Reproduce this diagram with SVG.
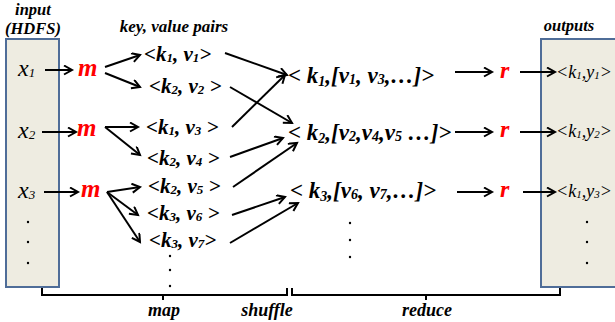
<svg xmlns="http://www.w3.org/2000/svg" width="615" height="322" viewBox="0 0 615 322">
<style>
.t{font-family:'Liberation Serif',Tinos,'Times New Roman','DejaVu Serif',serif;font-style:italic;fill:#000}
.b{font-weight:bold}
.red{fill:#FF0000;font-weight:bold}
.box{fill:#EEECE1;stroke:#4F6D98;stroke-width:2}
.ln{stroke:#000;stroke-width:2;fill:none}
.ar{stroke:#000;stroke-width:2;fill:none;marker-end:url(#ah)}
.dot{fill:#000}
</style>
<defs>
<marker id="ah" markerUnits="userSpaceOnUse" markerWidth="12" markerHeight="12" refX="9" refY="5" orient="auto">
<path d="M1,0.5 L9,5 L1,9.5" stroke="#000" stroke-width="2" fill="none"/>
</marker>
</defs>
<rect width="615" height="322" fill="#fff"/>

<g id="input-box">
<rect class="box" x="6" y="39" width="53" height="248"/>
<text class="t b" x="33" y="15" font-size="16.5" text-anchor="middle">input</text>
<text class="t b" x="33" y="34" font-size="16.5" text-anchor="middle">(HDFS)</text>
<text class="t" x="18" y="76" font-size="24">x<tspan font-size="13" dy="1">1</tspan></text>
<text class="t" x="18" y="138" font-size="24">x<tspan font-size="13" dy="1">2</tspan></text>
<text class="t" x="18" y="198" font-size="24">x<tspan font-size="13" dy="1">3</tspan></text>
<circle class="dot" cx="28" cy="222" r="1.2"/><circle class="dot" cx="28" cy="242" r="1.2"/><circle class="dot" cx="28" cy="263" r="1.2"/>
</g>

<g id="output-box">
<rect class="box" x="541" y="39" width="90" height="248"/>
<text class="t b" x="569" y="31" font-size="16.5" text-anchor="middle">outputs</text>
<text class="t" x="556" y="78" font-size="18">&lt;k<tspan font-size="11" dy="1">1</tspan><tspan dy="-1">,y</tspan><tspan font-size="11" dy="1">1</tspan><tspan dy="-1">&gt;</tspan></text>
<text class="t" x="556" y="137" font-size="18">&lt;k<tspan font-size="11" dy="1">1</tspan><tspan dy="-1">,y</tspan><tspan font-size="11" dy="1">2</tspan><tspan dy="-1">&gt;</tspan></text>
<text class="t" x="556" y="197" font-size="18">&lt;k<tspan font-size="11" dy="1">1</tspan><tspan dy="-1">,y</tspan><tspan font-size="11" dy="1">3</tspan><tspan dy="-1">&gt;</tspan></text>
<circle class="dot" cx="587" cy="222" r="1.2"/><circle class="dot" cx="587" cy="242" r="1.2"/><circle class="dot" cx="587" cy="263" r="1.2"/>
</g>

<g id="header">
<text class="t b" x="174" y="32" font-size="17" text-anchor="middle">key, value pairs</text>
</g>

<g id="mappers">
<text class="t red" x="78" y="76" font-size="25">m</text>
<text class="t red" x="77" y="136" font-size="25">m</text>
<text class="t red" x="81" y="197" font-size="25">m</text>
</g>

<g id="pairs">
<text class="t b" x="144" y="61" font-size="21">&lt;k<tspan font-size="13" dy="1">1</tspan><tspan dy="-1">, v</tspan><tspan font-size="13" dy="1">1</tspan><tspan dy="-1">&gt;</tspan></text>
<text class="t b" x="149" y="93" font-size="21">&lt;k<tspan font-size="13" dy="1">2</tspan><tspan dy="-1">, v</tspan><tspan font-size="13" dy="1">2</tspan><tspan dy="-1"> &gt;</tspan></text>
<text class="t b" x="146" y="134" font-size="21">&lt;k<tspan font-size="13" dy="1">1</tspan><tspan dy="-1">, v</tspan><tspan font-size="13" dy="1">3</tspan><tspan dy="-1"> &gt;</tspan></text>
<text class="t b" x="147" y="165" font-size="21">&lt;k<tspan font-size="13" dy="1">2</tspan><tspan dy="-1">, v</tspan><tspan font-size="13" dy="1">4</tspan><tspan dy="-1"> &gt;</tspan></text>
<text class="t b" x="148" y="193" font-size="21">&lt;k<tspan font-size="13" dy="1">2</tspan><tspan dy="-1">, v</tspan><tspan font-size="13" dy="1">5</tspan><tspan dy="-1"> &gt;</tspan></text>
<text class="t b" x="147" y="220" font-size="21">&lt;k<tspan font-size="13" dy="1">3</tspan><tspan dy="-1">, v</tspan><tspan font-size="13" dy="1">6</tspan><tspan dy="-1"> &gt;</tspan></text>
<text class="t b" x="149" y="247" font-size="21">&lt;k<tspan font-size="13" dy="1">3</tspan><tspan dy="-1">, v</tspan><tspan font-size="13" dy="1">7</tspan><tspan dy="-1">&gt;</tspan></text>
<circle class="dot" cx="170" cy="256" r="1.2"/><circle class="dot" cx="170" cy="270" r="1.2"/><circle class="dot" cx="170" cy="286" r="1.2"/>
</g>

<g id="groups">
<text class="t b" x="288" y="83" font-size="23">&lt; k<tspan font-size="14" dy="3">1</tspan><tspan dy="-3">,[v</tspan><tspan font-size="14" dy="1">1</tspan><tspan dy="-1">, v</tspan><tspan font-size="14" dy="1">3</tspan><tspan dy="-1">,…]&gt;</tspan></text>
<text class="t b" x="288" y="140" font-size="23">&lt; k<tspan font-size="14" dy="3">2</tspan><tspan dy="-3">,[v</tspan><tspan font-size="14" dy="1">2</tspan><tspan dy="-1">,v</tspan><tspan font-size="14" dy="1">4</tspan><tspan dy="-1">,v</tspan><tspan font-size="14" dy="1">5</tspan><tspan dy="-1"> …]&gt;</tspan></text>
<text class="t b" x="290" y="198" font-size="23">&lt; k<tspan font-size="14" dy="3">3</tspan><tspan dy="-3">,[v</tspan><tspan font-size="14" dy="1">6</tspan><tspan dy="-1">, v</tspan><tspan font-size="14" dy="1">7</tspan><tspan dy="-1">,…]&gt;</tspan></text>
<circle class="dot" cx="350" cy="223" r="1.2"/><circle class="dot" cx="350" cy="240" r="1.2"/><circle class="dot" cx="350" cy="257" r="1.2"/>
</g>

<g id="reducers">
<text class="t red" x="500" y="78" font-size="24">r</text>
<text class="t red" x="500" y="137" font-size="24">r</text>
<text class="t red" x="500" y="197" font-size="24">r</text>
</g>

<g id="connectors">
<line class="ar" x1="45" y1="70" x2="72" y2="70"/>
<line class="ar" x1="42" y1="132" x2="76" y2="132"/>
<line class="ar" x1="44" y1="192" x2="78" y2="192"/>
<line class="ar" x1="105" y1="67" x2="140" y2="55"/>
<line class="ar" x1="105" y1="73" x2="140" y2="87"/>
<line class="ar" x1="105" y1="127" x2="138" y2="127"/>
<line class="ar" x1="105" y1="127" x2="140" y2="155"/>
<line class="ar" x1="107" y1="192" x2="140" y2="187"/>
<line class="ar" x1="107" y1="192" x2="138" y2="215"/>
<line class="ar" x1="107" y1="192" x2="140" y2="242"/>
<line class="ar" x1="225" y1="53" x2="287" y2="75"/>
<line class="ar" x1="230" y1="87" x2="292" y2="123"/>
<line class="ar" x1="232" y1="127" x2="285" y2="75"/>
<line class="ar" x1="230" y1="157" x2="283" y2="138"/>
<line class="ar" x1="233" y1="187" x2="297" y2="143"/>
<line class="ar" x1="232" y1="215" x2="285" y2="197"/>
<line class="ar" x1="230" y1="243" x2="298" y2="203"/>
<line class="ar" x1="455" y1="72" x2="492" y2="72"/>
<line class="ar" x1="455" y1="132" x2="492" y2="132"/>
<line class="ar" x1="457" y1="192" x2="492" y2="192"/>
<line class="ar" x1="520" y1="72" x2="555" y2="72"/>
<line class="ar" x1="520" y1="132" x2="555" y2="132"/>
<line class="ar" x1="523" y1="192" x2="555" y2="192"/>
</g>

<g id="phases">
<path class="ln" d="M42,288 V295 H287 V288 M163,295 V300"/>
<path class="ln" d="M292,288 V295 H560 V288 M426,295 V300"/>
<text class="t b" x="164" y="316" font-size="18" text-anchor="middle">map</text>
<text class="t b" x="267" y="316" font-size="18" text-anchor="middle">shuffle</text>
<text class="t b" x="427" y="316" font-size="18" text-anchor="middle">reduce</text>
</g>
</svg>
